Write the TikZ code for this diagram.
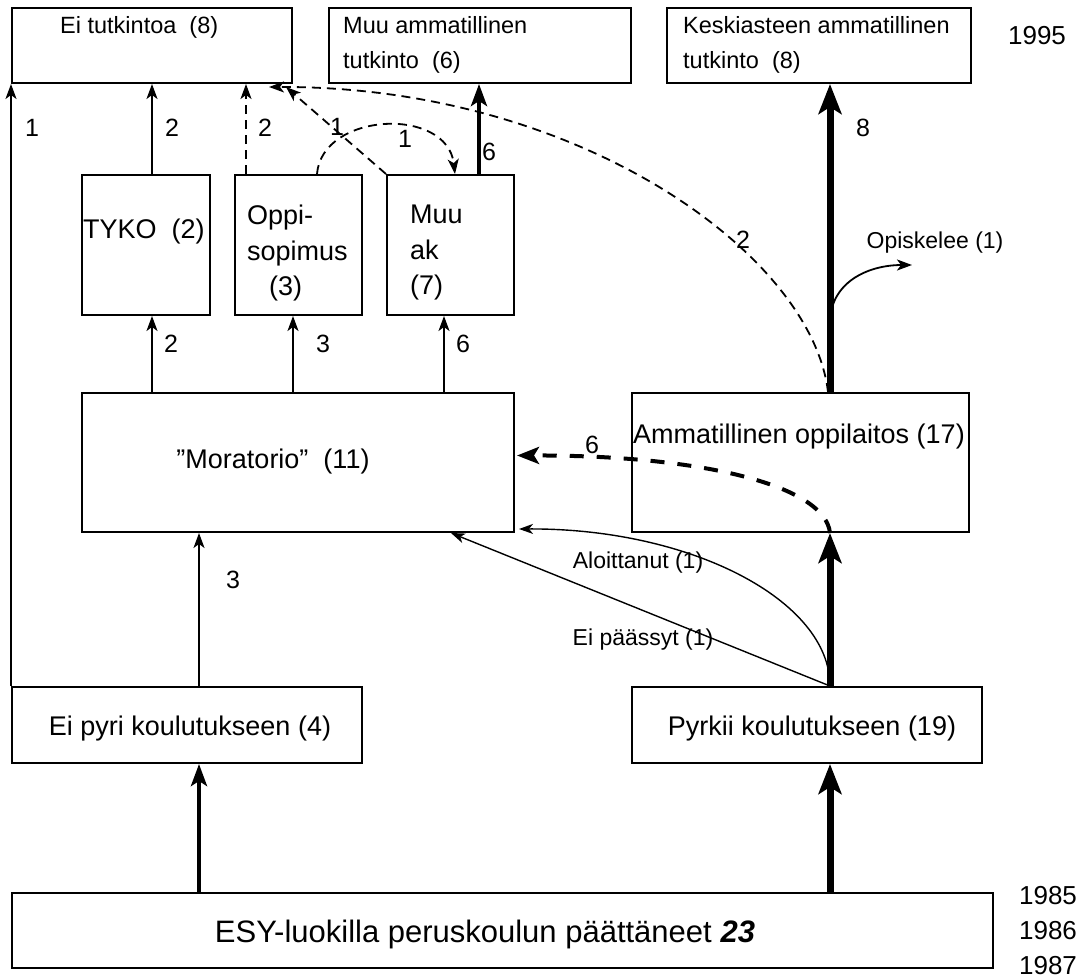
\documentclass[tikz,border=0pt]{standalone}
\usepackage{fontspec}
\setmainfont{Liberation Sans}
\usetikzlibrary{arrows.meta,calc}

\newcommand\fsz[2]{\fontsize{#1}{#2}\selectfont}

\begin{document}
\begin{tikzpicture}[x=1pt,y=-1pt,
  box/.style={draw,line width=2pt,inner sep=0pt},
  txt/.style={inner sep=0pt,font=\fsz{27}{35.5}},
  toptxt/.style={inner sep=0pt,font=\fsz{23.5}{35},align=left},
  yeartxt/.style={inner sep=0pt,font=\fsz{26}{30},anchor=base},
  lab/.style={inner sep=0pt,font=\fsz{25}{30}},
  small/.style={inner sep=0pt,font=\fsz{23}{28}},
  thinarr/.style={line width=1.8pt,-{Stealth[length=15pt,width=11pt,inset=4pt]}},
  finearr/.style={line width=1.4pt,-{Stealth[length=14pt,width=10pt,inset=4pt]}},
  midarr/.style={line width=4pt,-{Stealth[length=22pt,width=16pt,inset=5pt]}},
  bigarr/.style={line width=7pt,-{Stealth[length=30pt,width=23pt,inset=7pt]}},
  thindash/.style={dash pattern=on 9pt off 6pt},
  thickdash/.style={line width=4pt,dash pattern=on 14pt off 13pt,-{Stealth[length=22pt,width=17pt,inset=5pt]}},
]

\useasboundingbox[fill=white] (0,0) rectangle (1092,978);

% ---- boxes ----
\node[box,minimum width=280pt,minimum height=75pt] (eiT)   at (152,45.5)  {};
\node[box,minimum width=302pt,minimum height=75pt] (muuT)  at (480,45.5)  {};
\node[box,minimum width=304pt,minimum height=75pt] (kesk)  at (819,45.5)  {};
\node[box,minimum width=128pt,minimum height=140pt] (tyko) at (146,245)   {};
\node[box,minimum width=127pt,minimum height=140pt] (oppi) at (298.5,245) {};
\node[box,minimum width=127pt,minimum height=140pt] (muuak) at (450.5,245) {};
\node[box,minimum width=432pt,minimum height=139pt] (mora) at (298,462.5) {};
\node[box,minimum width=337pt,minimum height=139pt] (amm)  at (800.5,462.5) {};
\node[box,minimum width=350pt,minimum height=76pt] (eipyri) at (187,725) {};
\node[box,minimum width=350pt,minimum height=76pt] (pyrk)  at (807,725)  {};
\node[box,minimum width=981pt,minimum height=75pt] (esy)   at (502.5,930.5) {};

% ---- box texts ----
\node[toptxt,anchor=base west] (eiTt) at (60,33) {Ei tutkintoa~~(8)};
\node[toptxt,anchor=north west] (muuTt) at (343,16) {Muu ammatillinen\\tutkinto~~(6)};
\node[toptxt,anchor=north west] (keskt) at (683,16) {Keskiasteen ammatillinen\\tutkinto~~(8)};
\node[yeartxt] (y95) at (1037,44) {1995};
\node[txt,anchor=base west] (tykot) at (83,238) {TYKO~~(2)};
\node[txt,anchor=north west,align=left] (oppit) at (247,205) {Oppi-\\sopimus\\\hspace*{22pt}(3)};
\node[txt,anchor=north west,align=left] (muuakt) at (410,205) {Muu\\ak\\(7)};
\node[txt,anchor=base] (morat) at (273,468) {”Moratorio”~~(11)};
\node[txt,anchor=base] (ammt) at (799,443) {Ammatillinen oppilaitos (17)};
\node[txt,anchor=base] (eipyrit) at (190,735) {Ei pyri koulutukseen (4)};
\node[txt,anchor=base] (pyrkt) at (812,735) {Pyrkii koulutukseen (19)};
\node[inner sep=0pt,font=\fsz{31}{36},anchor=base] (esyt) at (485,942.5)
  {ESY-luokilla peruskoulun päättäneet \textbf{\textit{23}}};
\node[yeartxt] (y85) at (1048,904.5) {1985};
\node[yeartxt] (y86) at (1048,939.5) {1986};
\node[yeartxt] (y87) at (1048,974.5) {1987};

% ---- columns of the vertical connectors ----
\coordinate (cT)  at (152,0);
\coordinate (cO)  at (293,0);
\coordinate (cOd) at (246,0);
\coordinate (cM)  at (444,0);
\coordinate (cMt) at (479,0);
\coordinate (cA)  at (830,0);
\coordinate (cE)  at (199,0);
\coordinate (cEp) at (451,0);

% ---- main flow ----
\draw[bigarr] (esy.north -| cA) -- (pyrk.south -| cA);
\draw[bigarr] (pyrk.north -| cA) -- (amm.south -| cA);
\draw[bigarr] (amm.north -| cA) -- (kesk.south -| cA);
\draw[midarr] (esy.north -| cE) -- (eipyri.south -| cE);
\draw[thinarr] (eipyri.north -| cE) -- (mora.south -| cE);
\draw[thinarr] (eipyri.north west) -- (eiT.south west);

% ---- from the moratorium ----
\draw[thinarr] (mora.north -| cT) -- (tyko.south -| cT);
\draw[thinarr] (mora.north -| cO) -- (oppi.south -| cO);
\draw[thinarr] (mora.north -| cM) -- (muuak.south -| cM);

% ---- towards the 1995 outcomes ----
\draw[thinarr] (tyko.north -| cT) -- (eiT.south -| cT);
\draw[thinarr,thindash] (oppi.north -| cOd) -- (eiT.south -| cOd);
\draw[midarr] (muuak.north -| cMt) -- (muuT.south -| cMt);
\draw[thinarr,thindash] (muuak.north west) -- ($(eiT.south east)+(-7,3)$);
\draw[thinarr,thindash] ($(oppi.north)+(18.5,0)$) .. controls (322,112) and (447,106) .. ($(muuak.north)+(4.5,0)$);
\draw[thinarr,thindash] ($(amm.north)+(27.5,0)$) .. controls (812,255) and (580,86) .. ($(eiT.south east)+(-24,3)$);

% ---- drop-outs and side branches ----
\draw[thickdash] ($(amm.south)+(29.5,0)$) .. controls (825,485) and (700,455) .. ($(mora.east)+(2,-7)$);
\draw[finearr] (pyrk.north -| cA) .. controls (830,600) and (690,528) .. ($(mora.south east)+(4,-4)$);
\draw[finearr] (pyrk.north -| cA) -- (mora.south -| cEp);
\coordinate (opStart) at (830,323);
\coordinate (opEnd) at (912,265);
\draw[thinarr] (opStart) .. controls +(0,-40) and +(-45,0) .. (opEnd);

% ---- flow counts ----
\node[lab] (n1)  at (32,128)  {1};
\node[lab] (n2)  at (172,128) {2};
\node[lab] (n3)  at (265,128) {2};
\node[lab] (n4)  at (337,127) {1};
\node[lab] (n5)  at (405,139) {1};
\node[lab] (n6)  at (489,152) {6};
\node[lab] (n7)  at (863,128) {8};
\node[lab] (n8)  at (743,240) {2};
\node[lab] (n9)  at (171,344) {2};
\node[lab] (n10) at (323,344) {3};
\node[lab] (n11) at (463,344) {6};
\node[lab] (n12) at (233,580) {3};
\node[lab] (n13) at (592,445) {6};

\node[small] (opisk) at (935,243) {Opiskelee (1)};
\node[small] (aloit) at (638,563) {Aloittanut (1)};
\node[small] (eipaa) at (643,640) {Ei päässyt (1)};
\end{tikzpicture}
\end{document}
